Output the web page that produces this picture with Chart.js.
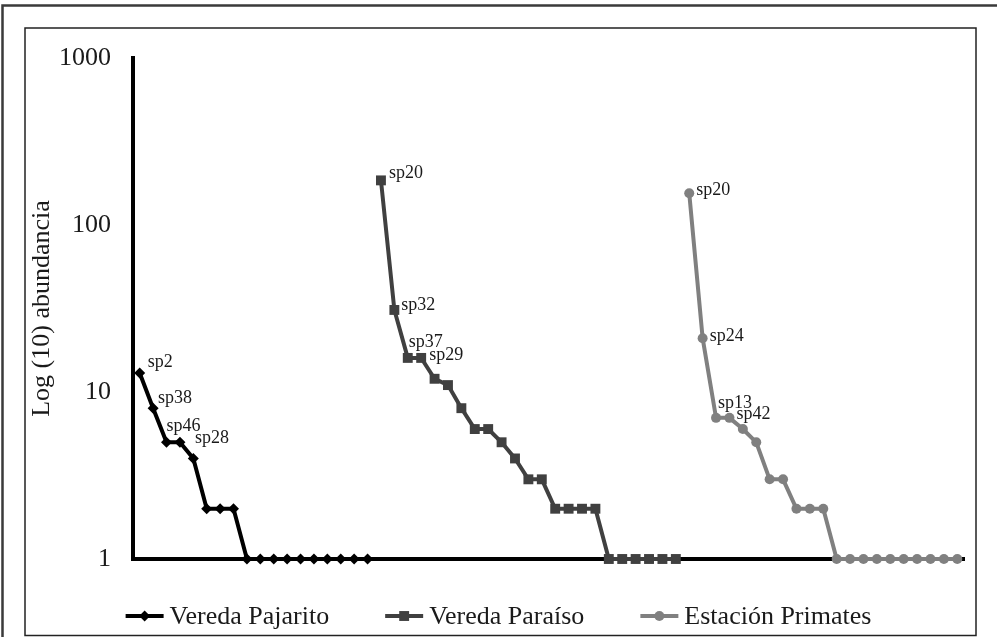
<!DOCTYPE html>
<html>
<head>
<meta charset="utf-8">
<title>Log (10) abundancia</title>
<script src="https://cdn.jsdelivr.net/npm/chart.js@4.4.1/dist/chart.umd.min.js"></script>
<style>
    html, body { margin: 0; padding: 0; background: #fff; }
    canvas { display: block; }
</style>
</head>
<body>
<canvas id="rankChart" width="997" height="637"></canvas>
<script>
// abundance by rank, one list per site
const pajaritoAbund = [13, 8, 5, 5, 4, 2, 2, 2, 1, 1, 1, 1, 1, 1, 1, 1, 1, 1];
const paraisoAbund = [185, 31, 16, 16, 12, 11, 8, 6, 6, 5, 4, 3, 3, 2, 2, 2, 2, 1, 1, 1, 1, 1, 1];
const primatesAbund = [155, 21, 7, 7, 6, 5, 3, 3, 2, 2, 2, 1, 1, 1, 1, 1, 1, 1, 1, 1, 1];

// species names shown next to the first points of each curve
const pajaritoTags = ["sp2", "sp38", "sp46", "sp28"];
const paraisoTags = ["sp20", "sp32", "sp37", "sp29"];
const primatesTags = ["sp20", "sp24", "sp13", "sp42"];

const seriesNames = ["Vereda Pajarito", "Vereda Paraíso", "Estación Primates"];
const yTicks = [1, 10, 100, 1000];

const FONT = "'Liberation Serif', 'Times New Roman', serif";
const INK = "#1a1a1a";

// marker look per series
const looks = [
    { color: "#000000", style: "rectRot", radius: 5.5 },
    { color: "#404040", style: "rect", radius: 7 },
    { color: "#808080", style: "circle", radius: 5 }
];

// where each tag sits relative to its point (px): [dx, dy]
const tagOffsets = [
    [[8, -11], [5, -10], [0, -16], [15, -4]],
    [[8, -7], [7, -5], [1, -16], [8, -3]],
    [[7, -3], [7, -2], [2, -15], [7, -4]]
];

// curves sit one after another along the x axis
const allSeries = [pajaritoAbund, paraisoAbund, primatesAbund];
const allTags = [pajaritoTags, paraisoTags, primatesTags];
const total = allSeries.reduce((n, s) => n + s.length, 0);
const ranks = [];
for (let i = 1; i <= total; i++) ranks.push(String(i));

let start = 0;
const starts = [];
const padded = allSeries.map(s => {
    const row = new Array(total).fill(null);
    s.forEach((v, i) => { row[start + i] = v; });
    starts.push(start);
    start += s.length;
    return row;
});

function drawMarker(ctx, style, r, x, y, color) {
    ctx.fillStyle = color;
    ctx.beginPath();
    if (style === "rectRot") {
        ctx.moveTo(x, y - r); ctx.lineTo(x + r, y); ctx.lineTo(x, y + r); ctx.lineTo(x - r, y);
        ctx.closePath();
    } else if (style === "rect") {
        const h = r * Math.SQRT1_2;
        ctx.rect(x - h, y - h, 2 * h, 2 * h);
    } else {
        ctx.arc(x, y, r, 0, Math.PI * 2);
    }
    ctx.fill();
}

// white page with the two frames
const framePlugin = {
    id: "frame",
    beforeDraw(chart) {
        const ctx = chart.ctx;
        ctx.save();
        ctx.fillStyle = "#fff";
        ctx.fillRect(0, 0, chart.width, chart.height);
        ctx.strokeStyle = "#3a3a3a";
        ctx.lineWidth = 2.5;
        ctx.strokeRect(2.5, 5.5, chart.width + 10, chart.height + 10);
        ctx.strokeStyle = "#222";
        ctx.lineWidth = 1.5;
        ctx.strokeRect(25, 28, 951, 607.5);
        ctx.restore();
    }
};

// species tags
const tagPlugin = {
    id: "tags",
    afterDatasetsDraw(chart) {
        const ctx = chart.ctx;
        ctx.save();
        ctx.font = "18px " + FONT;
        ctx.fillStyle = INK;
        ctx.textAlign = "left";
        ctx.textBaseline = "middle";
        allTags.forEach((tags, d) => {
            const meta = chart.getDatasetMeta(d);
            tags.forEach((tag, i) => {
                const pt = meta.data[starts[d] + i];
                const off = tagOffsets[d][i];
                ctx.fillText(tag, pt.x + off[0], pt.y + off[1]);
            });
        });
        ctx.restore();
    }
};

// legend: line with marker, centred along the bottom
const legendPlugin = {
    id: "lineLegend",
    afterDraw(chart) {
        const ctx = chart.ctx;
        const y = 616;
        const iconW = 38, textGap = 6, itemGap = 56;
        ctx.save();
        ctx.font = "26px " + FONT;
        const widths = seriesNames.map(n => iconW + textGap + ctx.measureText(n).width);
        const full = widths.reduce((a, b) => a + b, 0) + itemGap * (widths.length - 1);
        let x = (chart.width - full) / 2;
        seriesNames.forEach((name, i) => {
            const lk = looks[i];
            ctx.strokeStyle = lk.color;
            ctx.lineWidth = 4;
            ctx.beginPath();
            ctx.moveTo(x, y);
            ctx.lineTo(x + iconW, y);
            ctx.stroke();
            drawMarker(ctx, lk.style, lk.radius, x + iconW / 2, y, lk.color);
            ctx.fillStyle = INK;
            ctx.textAlign = "left";
            ctx.textBaseline = "middle";
            ctx.fillText(name, x + iconW + textGap, y + 1);
            x += widths[i] + itemGap;
        });
        ctx.restore();
    }
};

const ctx = document.getElementById("rankChart").getContext("2d");
new Chart(ctx, {
    type: "line",
    data: {
        labels: ranks,
        datasets: padded.map((row, i) => ({
            label: seriesNames[i],
            data: row,
            borderColor: looks[i].color,
            backgroundColor: looks[i].color,
            borderWidth: 4,
            pointStyle: looks[i].style,
            pointRadius: looks[i].radius,
            pointBorderWidth: 0,
            pointBackgroundColor: looks[i].color,
            tension: 0,
            clip: false,
            fill: false
        }))
    },
    options: {
        responsive: false,
        devicePixelRatio: 1,
        animation: false,
        layout: { padding: { left: 25, right: 33, top: 58, bottom: 78 } },
        plugins: {
            legend: { display: false },
            tooltip: { enabled: false }
        },
        scales: {
            x: {
                type: "category",
                offset: true,
                grid: { display: false, drawTicks: false },
                border: { display: true, color: "#000", width: 4 },
                ticks: { display: false },
                afterFit: s => { s.height = 0; }
            },
            y: {
                type: "logarithmic",
                min: 1,
                max: 1000,
                grid: { display: false, drawTicks: false },
                border: { display: true, color: "#000", width: 4 },
                afterBuildTicks: s => { s.ticks = yTicks.map(v => ({ value: v })); },
                afterFit: s => { s.width = 108; },
                ticks: {
                    padding: 22,
                    color: INK,
                    font: { family: FONT, size: 26 },
                    callback: v => String(v)
                },
                title: {
                    display: true,
                    text: "Log (10) abundancia",
                    color: INK,
                    padding: { top: 2, bottom: 0 },
                    font: { family: FONT, size: 26 }
                }
            }
        }
    },
    plugins: [framePlugin, tagPlugin, legendPlugin]
});
</script>
</body>
</html>
